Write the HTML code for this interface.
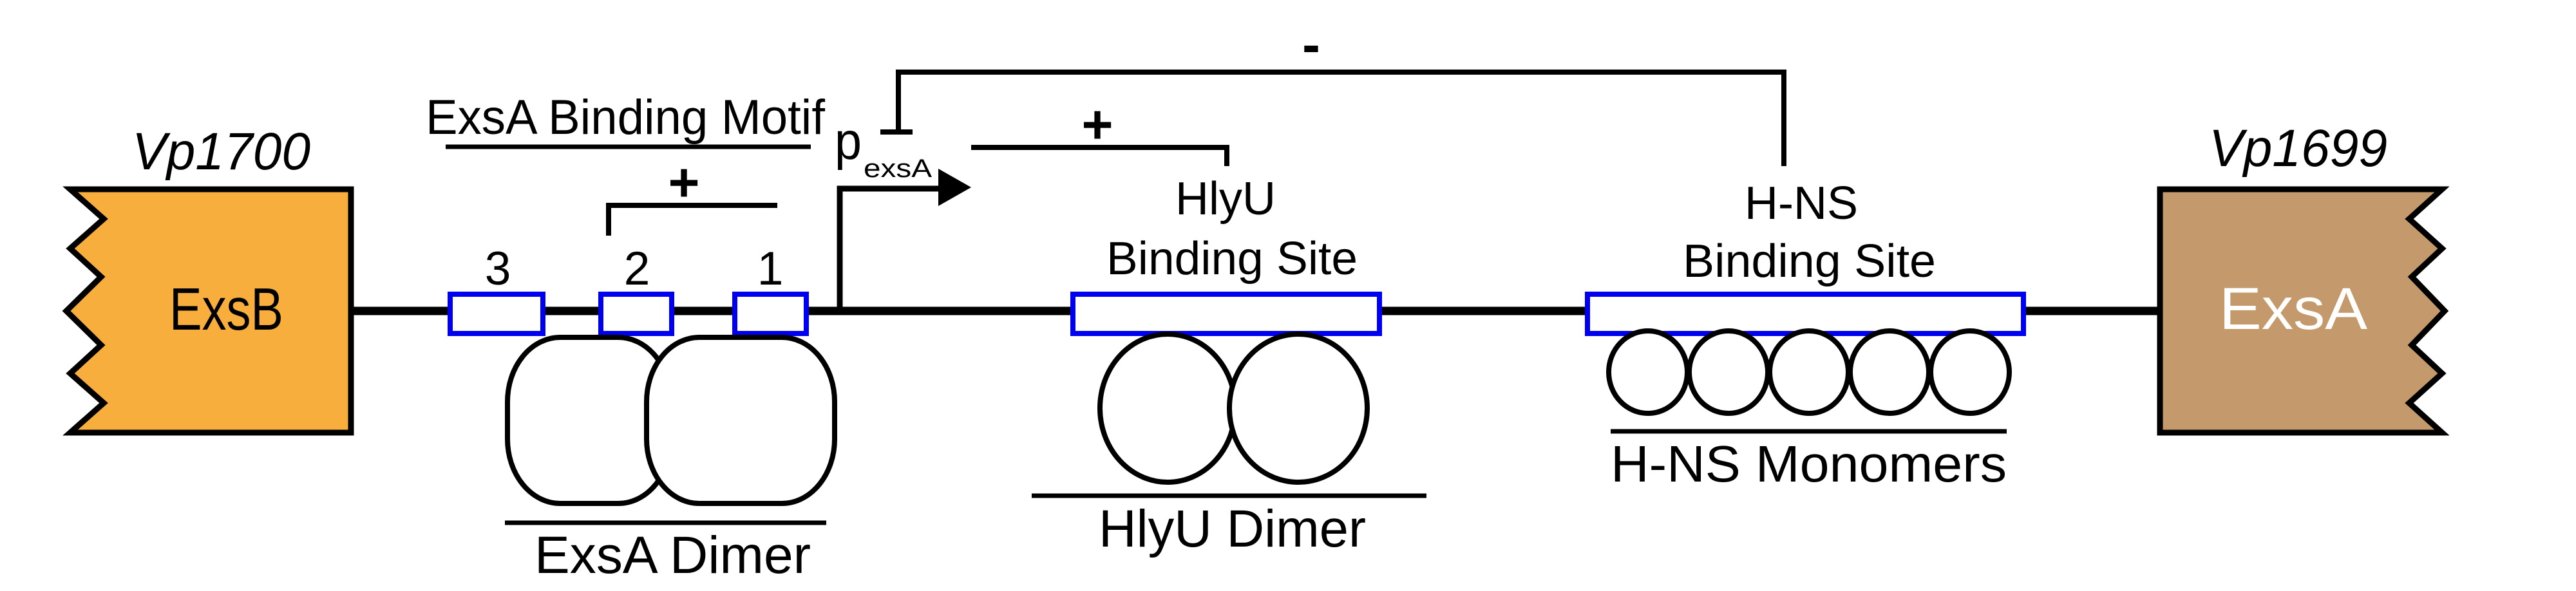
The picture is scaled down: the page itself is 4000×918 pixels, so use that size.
<!DOCTYPE html>
<html><head><meta charset="utf-8"><style>
html,body{margin:0;padding:0;background:#fff;}
svg{display:block;}
text{font-family:"Liberation Sans",Arial,sans-serif;fill:#000;}
</style></head><body>
<svg width="4000" height="918" viewBox="0 0 4000 918" xmlns="http://www.w3.org/2000/svg">
<rect width="4000" height="918" fill="#fff"/>
<line x1="545" y1="483" x2="3354" y2="483" stroke="#000" stroke-width="13"/>
<polygon points="109,294 545,294 545,672 109,672 161,626 109,580 157,536 103,483 157,430 109,386 161,340" fill="#F8AE3C" stroke="#000" stroke-width="9" stroke-linejoin="miter"/>
<text x="263" y="512" font-size="93" textLength="177" lengthAdjust="spacingAndGlyphs">ExsB</text>
<text x="205" y="263" font-size="82" font-style="italic" textLength="277" lengthAdjust="spacingAndGlyphs">Vp1700</text>
<polygon points="3354,294 3792,294 3741,340 3792,386 3745,430 3796,483 3745,536 3792,580 3741,626 3792,672 3354,672" fill="#C49A6C" stroke="#000" stroke-width="9" stroke-linejoin="miter"/>
<text x="3446" y="511" font-size="92" style="fill:#fff" textLength="230" lengthAdjust="spacingAndGlyphs">ExsA</text>
<text x="3430" y="258" font-size="82" font-style="italic" textLength="277" lengthAdjust="spacingAndGlyphs">Vp1699</text>
<g fill="#fff" stroke="#0000F0" stroke-width="8">
<rect x="699" y="457" width="144" height="61"/>
<rect x="933" y="457" width="110" height="61"/>
<rect x="1141" y="457" width="111" height="61"/>
<rect x="1666" y="457" width="476" height="61"/>
<rect x="2465" y="457" width="677" height="61"/>
</g>
<text x="773" y="442" font-size="73" text-anchor="middle">3</text>
<text x="989" y="442" font-size="73" text-anchor="middle">2</text>
<text x="1196" y="442" font-size="73" text-anchor="middle">1</text>
<text x="661" y="208" font-size="76" textLength="620" lengthAdjust="spacingAndGlyphs">ExsA Binding Motif</text>
<line x1="692" y1="228" x2="1259" y2="228" stroke="#000" stroke-width="7"/>
<polyline points="945,366 945,319 1207,319" fill="none" stroke="#000" stroke-width="8"/>
<text x="1062" y="312" font-size="84" font-weight="bold" text-anchor="middle">+</text>
<rect x="788" y="524" width="254" height="258" rx="82" ry="100" fill="#fff" stroke="#000" stroke-width="8"/>
<rect x="1004" y="524" width="292" height="258" rx="82" ry="100" fill="#fff" stroke="#000" stroke-width="8"/>
<line x1="784" y1="812" x2="1283" y2="812" stroke="#000" stroke-width="7"/>
<text x="830" y="890" font-size="82" textLength="429" lengthAdjust="spacingAndGlyphs">ExsA Dimer</text>
<polyline points="1304,483 1304,293 1462,293" fill="none" stroke="#000" stroke-width="9"/>
<polygon points="1457,262 1457,320 1508,291" fill="#000"/>
<text x="1296" y="247" font-size="82" textLength="42" lengthAdjust="spacingAndGlyphs">p</text>
<text x="1341" y="275" font-size="40" textLength="106" lengthAdjust="spacingAndGlyphs">exsA</text>
<polyline points="1395,205 1395,112 2770,112 2770,258" fill="none" stroke="#000" stroke-width="8"/>
<line x1="1367" y1="205" x2="1417" y2="205" stroke="#000" stroke-width="8"/>
<text x="2036" y="98" font-size="84" font-weight="bold" text-anchor="middle">-</text>
<polyline points="1508,229 1905,229 1905,258" fill="none" stroke="#000" stroke-width="8"/>
<text x="1704" y="222" font-size="84" font-weight="bold" text-anchor="middle">+</text>
<text x="1903" y="333" font-size="72" text-anchor="middle">HlyU</text>
<text x="1718" y="426" font-size="72" textLength="390" lengthAdjust="spacingAndGlyphs">Binding Site</text>
<ellipse cx="1813" cy="634" rx="105" ry="115" fill="#fff" stroke="#000" stroke-width="8"/>
<ellipse cx="2016" cy="634" rx="107" ry="115" fill="#fff" stroke="#000" stroke-width="8"/>
<line x1="1602" y1="770" x2="2215" y2="770" stroke="#000" stroke-width="7"/>
<text x="1706" y="849" font-size="82" textLength="415" lengthAdjust="spacingAndGlyphs">HlyU Dimer</text>
<text x="2797" y="340" font-size="72" text-anchor="middle">H-NS</text>
<text x="2613" y="430" font-size="72" textLength="393" lengthAdjust="spacingAndGlyphs">Binding Site</text>
<g fill="#fff" stroke="#000" stroke-width="8">
<ellipse cx="2559" cy="578" rx="61" ry="64"/>
<ellipse cx="2684" cy="578" rx="61" ry="64"/>
<ellipse cx="2809" cy="578" rx="61" ry="64"/>
<ellipse cx="2934" cy="578" rx="61" ry="64"/>
<ellipse cx="3059" cy="578" rx="61" ry="64"/>
</g>
<line x1="2501" y1="670" x2="3116" y2="670" stroke="#000" stroke-width="7"/>
<text x="2501" y="748" font-size="80" textLength="615" lengthAdjust="spacingAndGlyphs">H-NS Monomers</text>
</svg>
</body></html>
